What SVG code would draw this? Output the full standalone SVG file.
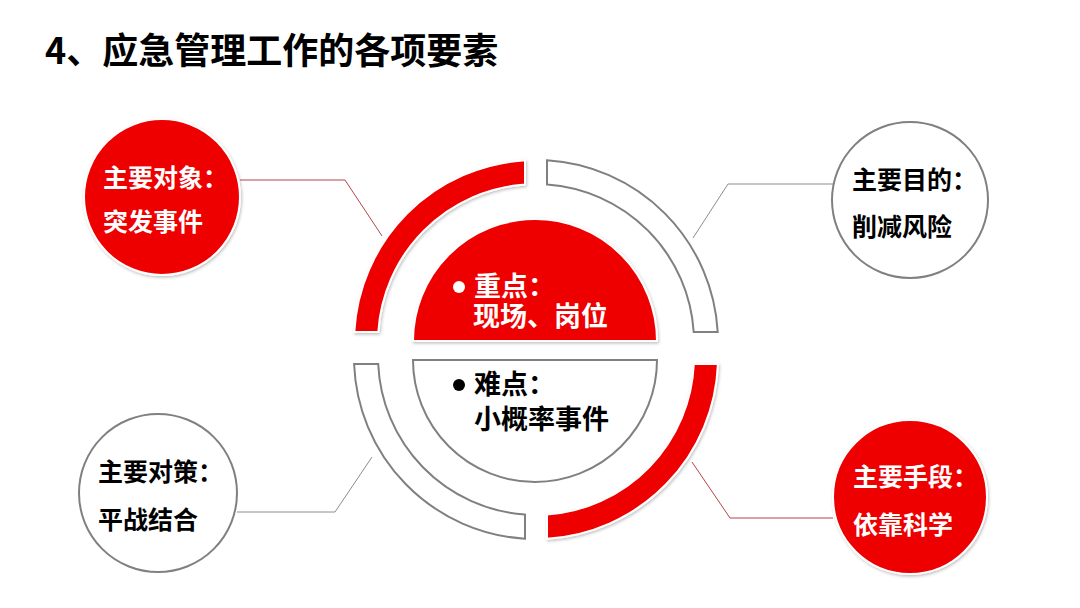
<svg xmlns="http://www.w3.org/2000/svg" width="1080" height="608" viewBox="0 0 1080 608">
<defs>
<style>
text{font-family:"Noto Sans CJK SC","Noto Sans",sans-serif;font-weight:bold}
.title{font-size:36px;fill:#000}
.sat{font-size:25px}
.inner{font-size:27px;font-family:"Liberation Sans","Noto Sans CJK SC",sans-serif}
.w{fill:#fff}
.k{fill:#000}
.red{fill:#ee0000;stroke:#fff;stroke-width:2}
.gray{fill:#fff;stroke:#808080;stroke-width:2}
.conR{fill:none;stroke:#b5454a;stroke-width:1}
.conG{fill:none;stroke:#8c8c8c;stroke-width:1}
</style>
<filter id="sh" x="-10%" y="-10%" width="120%" height="120%">
<feDropShadow dx="1" dy="1.5" stdDeviation="1.5" flood-color="#000" flood-opacity="0.25"/>
</filter>
</defs>
<rect width="1080" height="608" fill="#fff"/>
<text class="title" x="45" y="64">4、应急管理工作的各项要素</text>

<g id="connectors">
<polyline class="conR" points="240,180 345,180 382,236"/>
<polyline class="conG" points="834,184 728,184 693,238"/>
<polyline class="conG" points="237,512 335,512 372,457"/>
<polyline class="conR" points="692,462 730,518 833,518"/>
</g>

<g id="ring">
<path id="arc-tl" class="red" filter="url(#sh)" d="M525 160.3 A182 182 0 0 0 354.3 332 L378.3 332 A158 158 0 0 1 525 184.4 Z"/>
<path id="arc-tr" class="gray" d="M547 160.3 A182 182 0 0 1 717.7 332 L693.7 332 A158 158 0 0 0 547 184.4 Z"/>
<path id="arc-bl" class="gray" d="M354.1 364 A182 182 0 0 0 525 538.7 L525 514.6 A158 158 0 0 1 378.2 364 Z"/>
<path id="arc-br" class="red" filter="url(#sh)" d="M717.9 364 A182 182 0 0 1 547 538.7 L547 514.6 A158 158 0 0 0 693.8 364 Z"/>
</g>

<g id="focus">
<path class="red" filter="url(#sh)" d="M413 341 A122 122 0 0 1 657 341 Z"/>
<circle cx="459" cy="287" r="6" fill="#fff"/>
<text class="inner w"><tspan x="474" y="296">重点：</tspan><tspan x="473" y="326">现场、岗位</tspan></text>
</g>

<g id="difficulty">
<path class="gray" d="M413 360 A122 122 0 0 0 657 360 Z"/>
<circle cx="459" cy="385" r="6" fill="#000"/>
<text class="inner k"><tspan x="474" y="394">难点：</tspan><tspan x="474" y="429">小概率事件</tspan></text>
</g>

<g id="object">
<circle class="red" filter="url(#sh)" cx="162" cy="197" r="78"/>
<text class="sat w" x="103" y="187">主要对象：</text>
<text class="sat w" x="103" y="231">突发事件</text>
</g>

<g id="purpose">
<circle class="gray" cx="910" cy="200" r="78"/>
<text class="sat k" x="852" y="189">主要目的：</text>
<text class="sat k" x="852" y="236">削减风险</text>
</g>

<g id="strategy">
<circle class="gray" cx="158" cy="493" r="79"/>
<text class="sat k" x="98" y="481">主要对策：</text>
<text class="sat k" x="98" y="529">平战结合</text>
</g>

<g id="means">
<circle class="red" filter="url(#sh)" cx="910" cy="497" r="77"/>
<text class="sat w" x="853" y="486">主要手段：</text>
<text class="sat w" x="853" y="534">依靠科学</text>
</g>
</svg>
